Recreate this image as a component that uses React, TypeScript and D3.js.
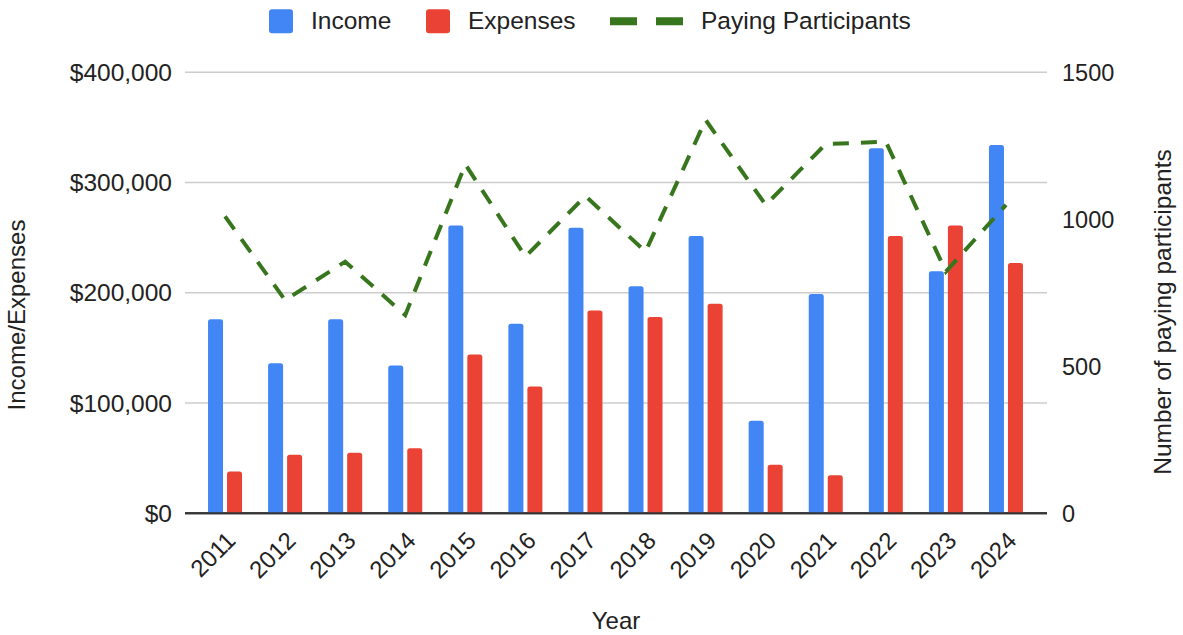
import React from "react";
import * as d3 from "d3";

const years = ["2011","2012","2013","2014","2015","2016","2017","2018","2019","2020","2021","2022","2023","2024"];
const income = [176000,136000,176000,134000,261000,172000,259000,206000,251500,84000,199000,331000,219500,334000];
const expenses = [38000,53000,55000,59000,144000,115000,184000,178000,190000,44000,34500,251500,261000,227000];
const participants = [1010,725,856,674,1187,873,1079,890,1338,1049,1256,1264,822,1049];
const leftTicks = [0,100000,200000,300000,400000];
const rightTicks = [0,500,1000,1500];
const seriesNames = ["Income","Expenses"];

const W = 1183, H = 635;
const FONT = "'Liberation Sans', Arial, sans-serif";
const BLUE = "#4285f4", RED = "#ea4335", GREEN = "#38761d";

function topRoundedRect(x: number, y: number, w: number, h: number, r: number) {
  if (h <= 0) return "";
  const rr = Math.min(r, h, w / 2);
  return `M${x},${y + h}V${y + rr}Q${x},${y} ${x + rr},${y}H${x + w - rr}Q${x + w},${y} ${x + w},${y + rr}V${y + h}Z`;
}

export default function App() {
  const x = d3.scaleBand<string>().domain(years).range([195, 1036]);
  const sub = d3.scaleBand<string>().domain(seriesNames).range([0, 34]).paddingInner(2 - 34 / 19);
  const yL = d3.scaleLinear().domain([0, 400000]).range([513.3, 72.3]);
  const yR = d3.scaleLinear().domain([0, 1500]).range([513.3, 72.3]);
  const cx = (yr: string) => (x(yr) as number) + x.bandwidth() / 2;
  const fmt = (v: number) => "$" + d3.format(",")(v);
  const line = d3.line<number>().x((_, i) => cx(years[i])).y((d) => yR(d));
  const gridX0 = 185, gridX1 = 1047;

  return (
    <svg width={W} height={H} style={{ position: "fixed", left: 0, top: 0, background: "#fff" }} fontFamily={FONT}>
      <rect width={W} height={H} fill="#fff" />
      {leftTicks.map((t) => (
        <line key={t} x1={gridX0} x2={gridX1} y1={yL(t)} y2={yL(t)} stroke={t === 0 ? "#333" : "#cccccc"} strokeWidth={t === 0 ? 2 : 1.5} />
      ))}
      {leftTicks.map((t) => (
        <text key={t} x={172} y={yL(t)} dy="0.35em" textAnchor="end" fontSize={24.5} fill="#222">{fmt(t)}</text>
      ))}
      {rightTicks.map((t) => (
        <text key={t} x={1062} y={yR(t)} dy="0.35em" textAnchor="start" fontSize={23.5} fill="#222">{t}</text>
      ))}
      {years.map((yr, i) => {
        const g0 = cx(yr) - 17;
        const vals = [income[i], expenses[i]];
        return seriesNames.map((s, j) => {
          const bx = g0 + (sub(s) as number);
          const by = yL(vals[j]);
          return <path key={yr + s} d={topRoundedRect(bx, by, sub.bandwidth(), yL(0) - by, 2.5)} fill={j === 0 ? BLUE : RED} />;
        });
      })}
      <line x1={gridX0} x2={gridX1} y1={yL(0)} y2={yL(0)} stroke="#333" strokeWidth={2} />
      <path d={line(participants) || ""} fill="none" stroke={GREEN} strokeWidth={4} strokeDasharray="16 12" />
      {years.map((yr) => (
        <text key={yr} transform={`translate(${cx(yr) + 12},${542}) rotate(-45)`} textAnchor="end" fontSize={24} fill="#222">{yr}</text>
      ))}
      <text x={616} y={629} textAnchor="middle" fontSize={24} fill="#222">Year</text>
      <text transform="translate(25,315) rotate(-90)" textAnchor="middle" fontSize={24} fill="#222">Income/Expenses</text>
      <text transform="translate(1171,312) rotate(-90)" textAnchor="middle" fontSize={24.5} fill="#222">Number of paying participants</text>
      <rect x={269} y={9.3} width={24} height={24} rx={3} fill={BLUE} />
      <text x={311} y={29} fontSize={24.5} fill="#222">Income</text>
      <rect x={426} y={9.3} width={24} height={24} rx={3} fill={RED} />
      <text x={468} y={29} fontSize={24.5} fill="#222">Expenses</text>
      <line x1={610} x2={683} y1={21.2} y2={21.2} stroke={GREEN} strokeWidth={8} strokeDasharray="27 19" />
      <text x={701} y={29} fontSize={24.5} fill="#222">Paying Participants</text>
    </svg>
  );
}
